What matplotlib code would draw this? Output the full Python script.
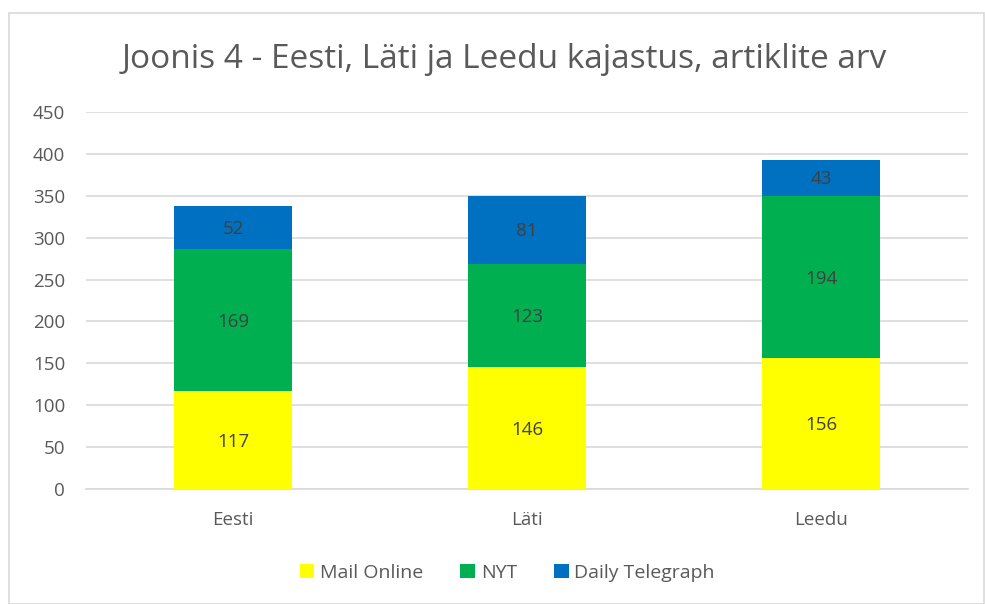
import matplotlib.pyplot as plt
from matplotlib.patches import Rectangle

categories = ['Eesti', 'Läti', 'Leedu']
mail_online = [117, 146, 156]
nyt = [169, 123, 194]
telegraph = [52, 81, 43]

series = [('Mail Online', mail_online, '#FFFF00'),
          ('NYT', nyt, '#00B050'),
          ('Daily Telegraph', telegraph, '#0070C0')]

plt.rcParams['font.family'] = ['Open Sans', 'DejaVu Sans']

fig = plt.figure(figsize=(9.85, 6.04), dpi=100)
ax = fig.add_axes([86/985, 1-489/604, 882/985, 377/604])

# chart border
fig.patches.append(Rectangle((9/985, 0.0), 975/985, 1-13/604, transform=fig.transFigure,
                             fill=False, edgecolor='#D9D9D9', linewidth=1.2))

x = range(len(categories))
bottom = [0] * len(categories)
for name, vals, col in series:
    ax.bar(x, vals, width=0.4, bottom=bottom, color=col, label=name, zorder=3)
    for i, v in enumerate(vals):
        ax.text(i, bottom[i] + v / 2 - 2, str(v), ha='center', va='center',
                fontsize=13.5, color='#404040', zorder=4)
    bottom = [b + v for b, v in zip(bottom, vals)]

ax.set_xlim(-0.5, 2.5)
ax.set_ylim(0, 450)
ax.set_yticks(range(0, 451, 50))
ax.set_xticks(list(x))
ax.set_xticklabels(categories)
ax.yaxis.grid(True, color='#D9D9D9', linewidth=1.2, zorder=0)
for s in ax.spines.values():
    s.set_visible(False)
ax.spines['bottom'].set_visible(True)
ax.spines['bottom'].set_color('#D9D9D9')
ax.spines['bottom'].set_linewidth(1.2)
ax.tick_params(length=0, labelsize=13.5, labelcolor='#595959')
ax.tick_params(axis='y', pad=15)
ax.tick_params(axis='x', pad=16)

fig.text(0.512, 1-60/604, 'Joonis 4 - Eesti, Läti ja Leedu kajastus, artiklite arv',
         ha='center', va='center', fontsize=24, color='#595959')

fig.legend(loc='center', bbox_to_anchor=(0.515, 1-573/604), ncol=3, frameon=False,
           fontsize=14, labelcolor='#595959', handlelength=0.75, handleheight=0.75,
           handletextpad=0.3, columnspacing=1.9)

fig.savefig('out.png', dpi=100)
